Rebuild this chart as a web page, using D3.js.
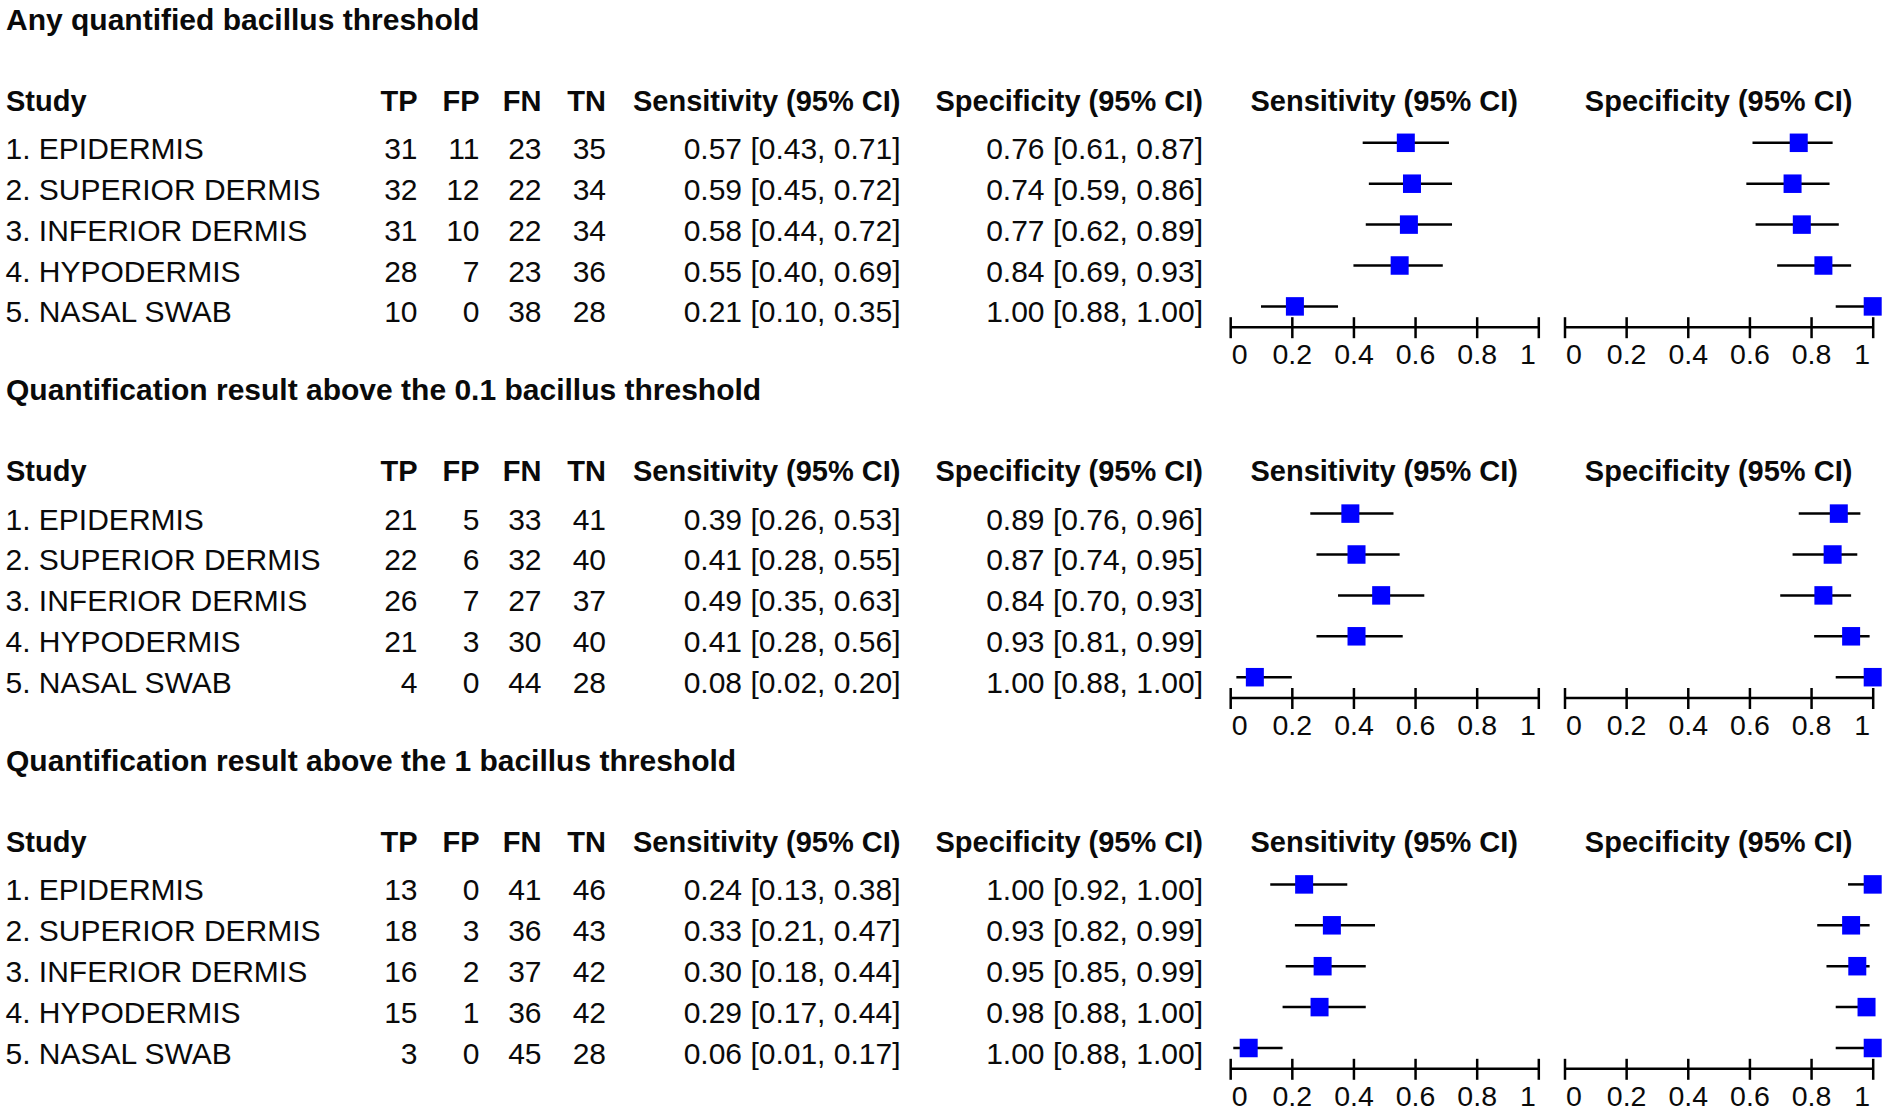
<!DOCTYPE html>
<html><head><meta charset="utf-8">
<script src="https://cdn.jsdelivr.net/npm/d3@7/dist/d3.min.js"></script>
<style>
html,body{margin:0;padding:0;background:#fff;}
svg{display:block;}
text{font-family:Arial,"Liberation Sans",sans-serif;fill:#0a0a0a;}
</style></head><body>
<svg id="chart" width="1892" height="1113"></svg>
<script>
// ---------- DATA ----------
const sectionTitles = [
  "Any quantified bacillus threshold",
  "Quantification result above the 0.1 bacillus threshold",
  "Quantification result above the 1 bacillus threshold"
];
const studies = ["1. EPIDERMIS","2. SUPERIOR DERMIS","3. INFERIOR DERMIS","4. HYPODERMIS","5. NASAL SWAB"];
const countHeaders = ["TP","FP","FN","TN"];
const tp = [[31,32,31,28,10],[21,22,26,21,4],[13,18,16,15,3]];
const fp = [[11,12,10,7,0],[5,6,7,3,0],[0,3,2,1,0]];
const fn = [[23,22,22,23,38],[33,32,27,30,44],[41,36,37,36,45]];
const tn = [[35,34,34,36,28],[41,40,37,40,28],[46,43,42,42,28]];
const sens   = [[0.57,0.59,0.58,0.55,0.21],[0.39,0.41,0.49,0.41,0.08],[0.24,0.33,0.30,0.29,0.06]];
const sensLo = [[0.43,0.45,0.44,0.40,0.10],[0.26,0.28,0.35,0.28,0.02],[0.13,0.21,0.18,0.17,0.01]];
const sensHi = [[0.71,0.72,0.72,0.69,0.35],[0.53,0.55,0.63,0.56,0.20],[0.38,0.47,0.44,0.44,0.17]];
const spec   = [[0.76,0.74,0.77,0.84,1.00],[0.89,0.87,0.84,0.93,1.00],[1.00,0.93,0.95,0.98,1.00]];
const specLo = [[0.61,0.59,0.62,0.69,0.88],[0.76,0.74,0.70,0.81,0.88],[0.92,0.82,0.85,0.88,0.88]];
const specHi = [[0.87,0.86,0.89,0.93,1.00],[0.96,0.95,0.93,0.99,1.00],[1.00,0.99,0.99,1.00,1.00]];
const sensHeader = "Sensitivity (95% CI)";
const specHeader = "Specificity (95% CI)";
const tickValues = [0,0.2,0.4,0.6,0.8,1];
const tickLabels = ["0","0.2","0.4","0.6","0.8","1"];

// ---------- LAYOUT ----------
const svg = d3.select("#chart");
const sectionStep = 370.8;
const titleY = 29.5, headerY = 110.5, row0 = 158.8, rowStep = 40.9, markOff = -16, axisY = 326.7;
const colX = {tp:417.5, fp:479.5, fn:541.5, tn:606, sens:900.5, spec:1203};
const xSens = d3.scaleLinear().domain([0,1]).range([1230.2,1538.3]);
const xSpec = d3.scaleLinear().domain([0,1]).range([1564.5,1872.7]);
const f2 = d3.format(".2f");
const ci = (v,l,h) => `${f2(v)} [${f2(l)}, ${f2(h)}]`;
const bodyFont = "30px", headFont = "29px", titleFont = "30px";

sectionTitles.forEach((title, s) => {
  const g = svg.append("g").attr("transform", `translate(0,${s*sectionStep})`);
  g.append("text").attr("x",6).attr("y",titleY).style("font-size",titleFont).style("font-weight","bold").text(title);

  // headers
  const hdr = g.append("g").style("font-weight","bold").style("font-size",headFont);
  hdr.append("text").attr("x",6).attr("y",headerY).text("Study");
  [colX.tp,colX.fp,colX.fn,colX.tn].forEach((x,i)=>{
    hdr.append("text").attr("x",x).attr("y",headerY).attr("text-anchor","end").text(countHeaders[i]);
  });
  hdr.append("text").attr("x",colX.sens).attr("y",headerY).attr("text-anchor","end").text(sensHeader);
  hdr.append("text").attr("x",colX.spec).attr("y",headerY).attr("text-anchor","end").text(specHeader);
  hdr.append("text").attr("x",(xSens.range()[0]+xSens.range()[1])/2).attr("y",headerY).attr("text-anchor","middle").text(sensHeader);
  hdr.append("text").attr("x",(xSpec.range()[0]+xSpec.range()[1])/2).attr("y",headerY).attr("text-anchor","middle").text(specHeader);

  const yRow = i => row0 + i*rowStep;
  const rows = g.selectAll("g.row").data(studies).join("g").attr("class","row").style("font-size",bodyFont);
  rows.append("text").attr("x",5.5).attr("y",(d,i)=>yRow(i)).text(d=>d);
  const cols = [[tp,colX.tp],[fp,colX.fp],[fn,colX.fn],[tn,colX.tn]];
  cols.forEach(([arr,x])=>{
    rows.append("text").attr("x",x).attr("y",(d,i)=>yRow(i)).attr("text-anchor","end").text((d,i)=>arr[s][i]);
  });
  rows.append("text").attr("x",colX.sens).attr("y",(d,i)=>yRow(i)).attr("text-anchor","end")
      .text((d,i)=>ci(sens[s][i],sensLo[s][i],sensHi[s][i]));
  rows.append("text").attr("x",colX.spec).attr("y",(d,i)=>yRow(i)).attr("text-anchor","end")
      .text((d,i)=>ci(spec[s][i],specLo[s][i],specHi[s][i]));

  // forest panels
  [[xSens,sens,sensLo,sensHi],[xSpec,spec,specLo,specHi]].forEach(([x,v,lo,hi])=>{
    const p = g.append("g");
    p.selectAll("line.ci").data(studies).join("line").attr("class","ci")
      .attr("x1",(d,i)=>x(lo[s][i])).attr("x2",(d,i)=>x(hi[s][i]))
      .attr("y1",(d,i)=>yRow(i)+markOff).attr("y2",(d,i)=>yRow(i)+markOff)
      .attr("stroke","#000").attr("stroke-width",2.5);
    const sqW = 18, sqH = 18.5;
    p.selectAll("rect.pt").data(studies).join("rect").attr("class","pt")
      .attr("x",(d,i)=>x(v[s][i])-sqW/2).attr("y",(d,i)=>yRow(i)+markOff-sqH/2)
      .attr("width",sqW).attr("height",sqH).attr("fill","#0000ff");

    const axis = d3.axisBottom(x).tickValues(tickValues).tickFormat((d,i)=>tickLabels[i])
      .tickSizeInner(11.5).tickSizeOuter(0);
    const ax = p.append("g").attr("transform",`translate(0,${axisY})`).call(axis);
    ax.select(".domain").attr("stroke","#000").attr("stroke-width",2.5);
    ax.selectAll(".tick line").attr("y1",-9.5).attr("stroke","#000").attr("stroke-width",2.5);
    ax.selectAll(".tick text").attr("y",37.5).attr("dy",null)
      .style("font-size","28.5px").style("font-family","Arial, 'Liberation Sans', sans-serif").attr("fill","#0a0a0a")
      .attr("text-anchor",(d,i)=> i===0 ? "start" : (i===tickValues.length-1 ? "end" : "middle"))
      .attr("dx",(d,i)=> i===0 ? 1 : (i===tickValues.length-1 ? -3 : 0));
  });
});
</script>
</body></html>
